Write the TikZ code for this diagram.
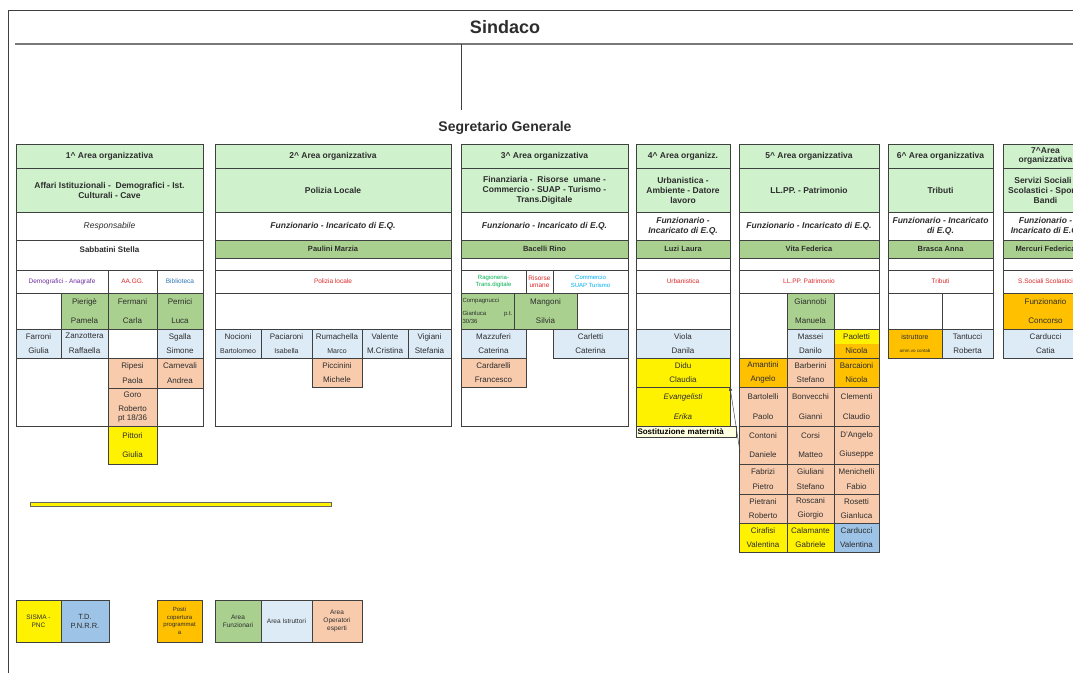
\documentclass[tikz,border=0pt]{standalone}
\usepackage{fontspec}
\setmainfont{Liberation Sans}
\usetikzlibrary{arrows}
\usepackage{xcolor}
\definecolor{hdrgreen}{RGB}{207,242,204}
\definecolor{funzgreen}{RGB}{169,208,142}
\definecolor{istrblue}{RGB}{221,235,247}
\definecolor{operpeach}{RGB}{248,203,173}
\definecolor{postorange}{RGB}{255,192,0}
\definecolor{pnrrblue}{RGB}{157,195,230}
\definecolor{notebg}{RGB}{255,255,225}
\definecolor{linegray}{RGB}{64,64,64}
\definecolor{txtgray}{RGB}{45,45,45}
\definecolor{secred}{RGB}{220,40,40}
\definecolor{secpurple}{RGB}{112,48,160}
\definecolor{secblue}{RGB}{46,117,182}
\definecolor{secgreen}{RGB}{0,176,80}
\definecolor{seccyan}{RGB}{0,176,240}

\begin{document}
\begin{tikzpicture}[x=1pt,y=-1pt,>=stealth',
  cell/.style={rectangle,draw=linegray,line width=0.6pt,anchor=north west,
    inner sep=1pt,outer sep=0pt,align=center,text=txtgray},
  sz/.style 2 args={minimum width=#1,minimum height=#2},
  hdr/.style={cell,fill=hdrgreen,font=\bfseries\fontsize{8.5}{10}\selectfont},
  role/.style={cell,fill=white,font=\bfseries\itshape\fontsize{8.5}{10}\selectfont},
  boss/.style={cell,fill=funzgreen,font=\bfseries\fontsize{7.5}{9}\selectfont},
  emptycell/.style={cell,fill=white},
  sect/.style={cell,fill=white,font=\fontsize{6.5}{8}\selectfont},
  funz/.style={cell,fill=funzgreen,font=\fontsize{8}{14.5}\selectfont},
  istr/.style={cell,fill=istrblue,font=\fontsize{8}{14.5}\selectfont},
  oper/.style={cell,fill=operpeach,font=\fontsize{8}{14.5}\selectfont},
  sisma/.style={cell,fill=yellow,font=\fontsize{8}{14.5}\selectfont},
  postcell/.style={cell,fill=postorange,font=\fontsize{8}{14.5}\selectfont},
  pnrr/.style={cell,fill=pnrrblue,font=\fontsize{8}{14.5}\selectfont},
  legendbox/.style={cell,font=\fontsize{6.5}{8}\selectfont},
  areaframe/.style={draw=linegray,line width=0.8pt}]

  \useasboundingbox (0,0) rectangle (1073,673);
  \clip (0,0) rectangle (1073,673);

  % outer frame and top
  \draw[linegray,line width=0.8pt] (8,673) -- (8,10) -- (1073,10);
  \node[font=\bfseries\fontsize{18}{20}\selectfont,text=txtgray] (sindaco) at (505,27) {Sindaco};
  \draw[linegray!70,line width=1.6pt] (15,44) -- (1073,44);
  \coordinate (vtop) at (461,44);
  \coordinate (vbot) at (461,110);
  \draw[linegray,line width=0.6pt] (vtop) -- (vbot);
  \node[font=\bfseries\fontsize{14}{16}\selectfont,text=txtgray] (segr) at (505,128) {Segretario Generale};

  % 1^ area
  \node[hdr,sz={187}{24}] (a1hdr) at (16,144) {1\textasciicircum{} Area organizzativa};
  \node[hdr,sz={187}{44}] (a1tit) at (16,168) {Affari Istituzionali -~ Demografici - Ist.\\Culturali - Cave};
  \node[role,sz={187}{28},font=\itshape\fontsize{8.5}{10}\selectfont] (a1role) at (16,212) {Responsabile};
  \node[emptycell,sz={187}{30}] (a1gap) at (16,240) {};
  \node[font=\bfseries\fontsize{8}{10}\selectfont,text=txtgray] (a1boss) at (109.5,250) {Sabbatini Stella};
  \node[sect,sz={92}{23},text=secpurple] (a1demo) at (16,270) {Demografici - Anagrafe};
  \node[sect,sz={49}{23},text=secred] (a1aagg) at (108,270) {AA.GG.};
  \node[sect,sz={46}{23},text=secblue] (a1bibl) at (157,270) {Biblioteca};
  \node[emptycell,sz={45}{36}] (a1e1) at (16,293) {};
  \node[funz,sz={47}{36}] (a1pier) at (61,293) {Pierigè\\[4pt]Pamela};
  \node[funz,sz={49}{36}] (a1ferm) at (108,293) {Fermani\\[4pt]Carla};
  \node[funz,sz={46}{36}] (a1pern) at (157,293) {Pernici\\[4pt]Luca};
  \node[istr,sz={45}{29}] (a1farr) at (16,329) {Farroni\\Giulia};
  \node[istr,sz={47}{29}] (a1zanz) at (61,329) {Zanzottera\\Raffaella};
  \node[istr,sz={46}{29}] (a1sgal) at (157,329) {Sgalla\\Simone};
  \node[oper,sz={49}{30}] (a1ripe) at (108,358) {Ripesi\\Paola};
  \node[oper,sz={46}{30}] (a1carn) at (157,358) {Carnevali\\Andrea};
  \node[oper,sz={49}{38},font=\fontsize{8}{10}\selectfont] (a1goro) at (108,388) {Goro\\[4pt]Roberto\\[-1pt]pt 18/36};
  \node[sisma,sz={49}{38}] (a1pitt) at (108,426) {Pittori\\[4pt]Giulia};
  \draw[areaframe] (16,144) rectangle (203,426);

  % 2^ area
  \node[hdr,sz={236}{24}] (a2hdr) at (215,144) {2\textasciicircum{} Area organizzativa};
  \node[hdr,sz={236}{44}] (a2tit) at (215,168) {Polizia Locale};
  \node[role,sz={236}{28}] (a2role) at (215,212) {Funzionario - Incaricato di E.Q.};
  \node[boss,sz={236}{18}] (a2boss) at (215,240) {Paulini Marzia};
  \node[emptycell,sz={236}{12}] (a2gap) at (215,258) {};
  \node[sect,sz={236}{23},text=secred] (a2sect) at (215,270) {Polizia locale};
  \node[emptycell,sz={236}{36}] (a2e1) at (215,293) {};
  \node[istr,sz={46}{29}] (a2noci) at (215,329) {Nocioni\\{\fontsize{7}{8}\selectfont Bartolomeo}};
  \node[istr,sz={51}{29}] (a2paci) at (261,329) {Paciaroni\\{\fontsize{7}{8}\selectfont Isabella}};
  \node[istr,sz={50}{29}] (a2ruma) at (312,329) {Rumachella\\{\fontsize{7}{8}\selectfont Marco}};
  \node[istr,sz={46}{29}] (a2vale) at (362,329) {Valente\\M.Cristina};
  \node[istr,sz={43}{29}] (a2vigi) at (408,329) {Vigiani\\Stefania};
  \node[oper,sz={50}{29}] (a2picc) at (312,358) {Piccinini\\Michele};
  \draw[areaframe] (215,144) rectangle (451,426);

  % 3^ area
  \node[hdr,sz={167}{24}] (a3hdr) at (461,144) {3\textasciicircum{} Area organizzativa};
  \node[hdr,sz={167}{44}] (a3tit) at (461,168) {Finanziaria -~ Risorse~ umane -\\Commercio - SUAP - Turismo -\\Trans.Digitale};
  \node[role,sz={167}{28}] (a3role) at (461,212) {Funzionario - Incaricato di E.Q.};
  \node[boss,sz={167}{18}] (a3boss) at (461,240) {Bacelli Rino};
  \node[emptycell,sz={167}{12}] (a3gap) at (461,258) {};
  \node[sect,sz={65}{23},text=secgreen,font=\fontsize{6}{7.5}\selectfont] (a3ragi) at (461,270) {Ragioneria-\\Trans.digitale};
  \node[sect,sz={27}{23},text=secred,font=\fontsize{6.5}{7.5}\selectfont] (a3riso) at (526,270) {Risorse\\umane};
  \node[sect,sz={75}{23},text=seccyan,font=\fontsize{6}{7.5}\selectfont] (a3comm) at (553,270) {Commercio\\SUAP Turismo};
  \node[funz,sz={53}{36},text width=50,align=left,font=\fontsize{6}{8}\selectfont] (a3comp) at (461,293) {Compagnucci\\[5pt]Gianluca\hfill p.t.\\30/36};
  \node[funz,sz={63}{36}] (a3mang) at (514,293) {Mangoni\\[4pt]Silvia};
  \node[istr,sz={65}{29}] (a3mazz) at (461,329) {Mazzuferi\\Caterina};
  \node[istr,sz={75}{29}] (a3carl) at (553,329) {Carletti\\Caterina};
  \node[oper,sz={65}{29}] (a3card) at (461,358) {Cardarelli\\Francesco};
  \draw[areaframe] (461,144) rectangle (628,426);

  % 4^ area
  \node[hdr,sz={94}{24}] (a4hdr) at (636,144) {4\textasciicircum{} Area organizz.};
  \node[hdr,sz={94}{44}] (a4tit) at (636,168) {Urbanistica -\\Ambiente - Datore\\lavoro};
  \node[role,sz={94}{28}] (a4role) at (636,212) {Funzionario -\\Incaricato di E.Q.};
  \node[boss,sz={94}{18}] (a4boss) at (636,240) {Luzi Laura};
  \node[emptycell,sz={94}{12}] (a4gap) at (636,258) {};
  \node[sect,sz={94}{23},text=secred] (a4sect) at (636,270) {Urbanistica};
  \node[emptycell,sz={94}{36}] (a4e1) at (636,293) {};
  \node[istr,sz={94}{29}] (a4viol) at (636,329) {Viola\\Danila};
  \node[sisma,sz={94}{29}] (a4didu) at (636,358) {Didu\\Claudia};
  \node[sisma,sz={94}{39},font=\itshape\fontsize{8}{14.5}\selectfont] (a4evan) at (636,387) {Evangelisti\\[6pt]Erika};
  \draw[areaframe] (636,144) rectangle (730,426);

  % 5^ area
  \node[hdr,sz={140}{24}] (a5hdr) at (739,144) {5\textasciicircum{} Area organizzativa};
  \node[hdr,sz={140}{44}] (a5tit) at (739,168) {LL.PP. - Patrimonio};
  \node[role,sz={140}{28}] (a5role) at (739,212) {Funzionario - Incaricato di E.Q.};
  \node[boss,sz={140}{18}] (a5boss) at (739,240) {Vita Federica};
  \node[emptycell,sz={140}{12}] (a5gap) at (739,258) {};
  \node[sect,sz={140}{23},text=secred] (a5sect) at (739,270) {LL.PP. Patrimonio};
  \node[funz,sz={47}{36}] (a5gian) at (787,293) {Giannobi\\[4pt]Manuela};
  \node[istr,sz={47}{29}] (a5mass) at (787,329) {Massei\\Danilo};
  \node[postcell,sz={45}{29},path picture={\fill[yellow] (path picture bounding box.north west) rectangle (path picture bounding box.east);}] (a5paol) at (834,329) {Paoletti\\Nicola};
  \node[postcell,sz={48}{29}] (a5aman) at (739,358) {Amantini\\Angelo};
  \node[oper,sz={47}{29}] (a5barb) at (787,358) {Barberini\\Stefano};
  \node[postcell,sz={45}{29}] (a5barc) at (834,358) {Barcaioni\\Nicola};
  \node[oper,sz={48}{39}] (a5bart) at (739,387) {Bartolelli\\[5pt]Paolo};
  \node[oper,sz={47}{39}] (a5bonv) at (787,387) {Bonvecchi\\[5pt]Gianni};
  \node[oper,sz={45}{39}] (a5clem) at (834,387) {Clementi\\[5pt]Claudio};
  \node[oper,sz={48}{38}] (a5cont) at (739,426) {Contoni\\[5pt]Daniele};
  \node[oper,sz={47}{38}] (a5cors) at (787,426) {Corsi\\[5pt]Matteo};
  \node[oper,sz={45}{38}] (a5dang) at (834,426) {D'Angelo\\[5pt]Giuseppe};
  \node[oper,sz={48}{30}] (a5fabr) at (739,464) {Fabrizi\\Pietro};
  \node[oper,sz={47}{30}] (a5giul) at (787,464) {Giuliani\\Stefano};
  \node[oper,sz={45}{30}] (a5meni) at (834,464) {Menichelli\\Fabio};
  \node[oper,sz={48}{29}] (a5piet) at (739,494) {Pietrani\\Roberto};
  \node[oper,sz={47}{29}] (a5rosc) at (787,494) {Roscani\\Giorgio};
  \node[oper,sz={45}{29}] (a5rose) at (834,494) {Rosetti\\Gianluca};
  \node[sisma,sz={48}{29}] (a5cira) at (739,523) {Cirafisi\\Valentina};
  \node[sisma,sz={47}{29}] (a5cala) at (787,523) {Calamante\\Gabriele};
  \node[pnrr,sz={45}{29}] (a5card) at (834,523) {Carducci\\Valentina};
  \draw[areaframe] (739,144) rectangle (879,426);

  % note on 4^ area
  \node[cell,fill=notebg,sz={100}{11},text width=97,inner sep=1.5pt,align=left,
    text=black,font=\bfseries\fontsize{8}{9}\selectfont] (a4note) at (636,426) {Sostituzione maternità};
  \coordinate (notept) at (740,452);
  \draw[->,black!70,line width=0.5pt] (notept) -- (a4evan.north east);

  % 6^ area
  \node[hdr,sz={105}{24}] (a6hdr) at (888,144) {6\textasciicircum{} Area organizzativa};
  \node[hdr,sz={105}{44}] (a6tit) at (888,168) {Tributi};
  \node[role,sz={105}{28}] (a6role) at (888,212) {Funzionario - Incaricato\\di E.Q.};
  \node[boss,sz={105}{18}] (a6boss) at (888,240) {Brasca Anna};
  \node[emptycell,sz={105}{12}] (a6gap) at (888,258) {};
  \node[sect,sz={105}{23},text=secred] (a6sect) at (888,270) {Tributi};
  \node[emptycell,sz={54}{36}] (a6e1) at (888,293) {};
  \node[emptycell,sz={51}{36}] (a6e2) at (942,293) {};
  \node[postcell,sz={54}{29},font=\fontsize{7}{13}\selectfont] (a6istr) at (888,329) {istruttore\\{\fontsize{4.5}{5}\selectfont amm.vo contab}};
  \node[istr,sz={51}{29}] (a6tant) at (942,329) {Tantucci\\Roberta};
  \draw[areaframe] (888,144) rectangle (993,358);

  % 7^ area
  \node[hdr,sz={85}{24},font=\bfseries\fontsize{8.5}{9.5}\selectfont] (a7hdr) at (1003,144) {7\textasciicircum{}Area\\organizzativa};
  \node[hdr,sz={85}{44}] (a7tit) at (1003,168) {Servizi Sociali -\\Scolastici - Sport -\\Bandi};
  \node[role,sz={85}{28}] (a7role) at (1003,212) {Funzionario -\\Incaricato di E.Q.};
  \node[boss,sz={85}{18}] (a7boss) at (1003,240) {Mercuri Federica};
  \node[emptycell,sz={85}{12}] (a7gap) at (1003,258) {};
  \node[sect,sz={85}{23},text=secred] (a7sect) at (1003,270) {S.Sociali Scolastici};
  \node[postcell,sz={85}{36}] (a7funz) at (1003,293) {Funzionario\\[4pt]Concorso};
  \node[istr,sz={85}{29}] (a7card) at (1003,329) {Carducci\\Catia};
  \draw[areaframe] (1003,144) rectangle (1088,358);

  % yellow bar
  \draw[fill=yellow,draw=linegray!80,line width=0.6pt] (30,502) rectangle (331,506);

  % legend
  \node[legendbox,fill=yellow,sz={45}{42}] (lgsisma) at (16,600) {SISMA -\\PNC};
  \node[legendbox,fill=pnrrblue,sz={48}{42},font=\fontsize{7.5}{9}\selectfont] (lgpnrr) at (61,600) {T.D.\\P.N.R.R.};
  \node[legendbox,fill=postorange,sz={45}{42},font=\fontsize{6}{7.5}\selectfont] (lgpost) at (157,600) {Posti\\copertura\\programmat\\a};
  \node[legendbox,fill=funzgreen,sz={46}{42}] (lgfunz) at (215,600) {Area\\Funzionari};
  \node[legendbox,fill=istrblue,sz={51}{42}] (lgistr) at (261,600) {Area Istruttori};
  \node[legendbox,fill=operpeach,sz={50}{42}] (lgoper) at (312,600) {Area\\Operatori\\esperti};
\end{tikzpicture}
\end{document}
